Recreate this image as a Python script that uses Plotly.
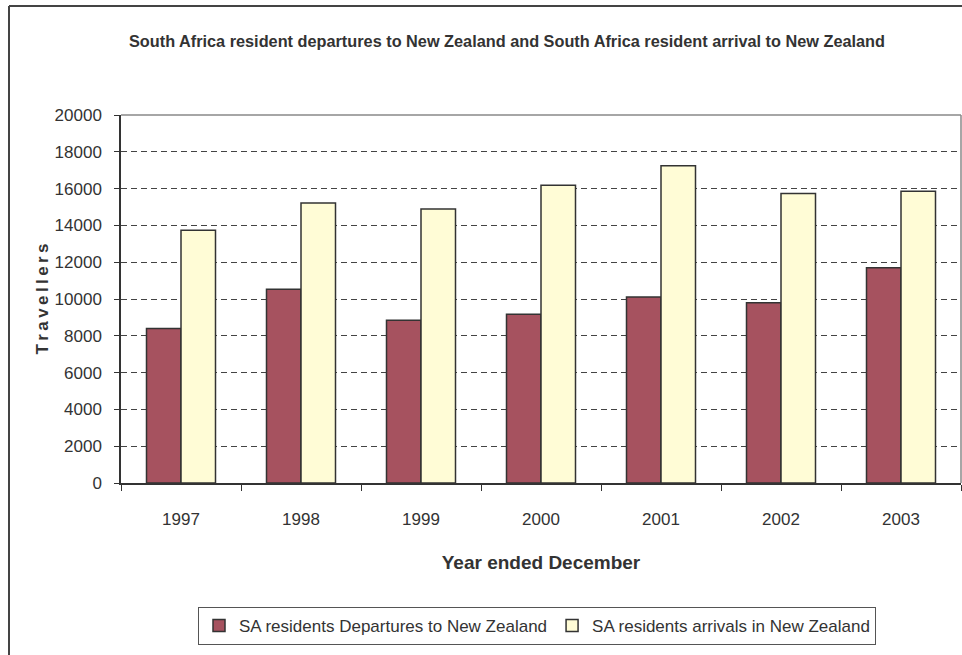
import plotly.graph_objects as go

years = ["1997", "1998", "1999", "2000", "2001", "2002", "2003"]
departures = [8400, 10530, 8840, 9170, 10110, 9800, 11700]
arrivals = [13730, 15220, 14890, 16180, 17240, 15740, 15850]
series_names = ["SA residents Departures to New Zealand", "SA residents arrivals in New Zealand"]
y_ticks = list(range(0, 20001, 2000))

FONT = "Liberation Sans, Arial, sans-serif"
TXT = "#333333"

fig = go.Figure()
fig.add_trace(go.Bar(x=years, y=departures, name=series_names[0],
                     marker=dict(color="#A6525F", line=dict(color="#333333", width=1.5))))
fig.add_trace(go.Bar(x=years, y=arrivals, name=series_names[1],
                     marker=dict(color="#FFFCD6", line=dict(color="#333333", width=1.5))))

W, H = 962, 655
L, R, T, B = 121, 1, 115, 172
pw = W - L - R
ph = H - T - B

def px_x(x):
    return (x - L) / pw

def px_y(y):
    return (H - B - y) / ph

fig.update_layout(
    width=W, height=H,
    margin=dict(l=L, r=R, t=T, b=B, autoexpand=False),
    paper_bgcolor="white", plot_bgcolor="white",
    font=dict(family=FONT, color=TXT, size=17),
    barmode="group", bargap=0.425, bargroupgap=0,
    title=dict(text="<b>South Africa resident departures to New Zealand and South Africa resident arrival to New Zealand</b>",
               x=507 / W, xanchor="center", xref="container",
               y=1 - 41 / H, yanchor="middle", yref="container",
               font=dict(family=FONT, size=16.3, color=TXT)),
    showlegend=True,
    legend=dict(orientation="h", x=px_x(537), xanchor="center", y=px_y(607), yanchor="top",
                bordercolor="#555555", borderwidth=1, font=dict(size=17, family=FONT, color=TXT),
                itemwidth=30, tracegroupgap=0, traceorder="normal"),
)

fig.update_xaxes(
    type="category", showline=True, linecolor="#333333", linewidth=1.5,
    ticks="outside", tickson="boundaries", ticklen=6, tickcolor="#333333",
    ticklabelstandoff=20, tickfont=dict(size=17, family=FONT, color=TXT),
    showgrid=False, automargin=False,
    title=dict(text="<b>Year ended December</b>", font=dict(size=19, family=FONT, color=TXT), standoff=28),
)
fig.update_yaxes(
    range=[0, 20000], tickvals=y_ticks, ticktext=[str(v) for v in y_ticks],
    showline=True, linecolor="#333333", linewidth=1.5,
    ticks="outside", ticklen=5, tickcolor="#333333",
    ticklabelstandoff=9, tickfont=dict(size=17, family=FONT, color=TXT),
    showgrid=True, gridcolor="#444444", gridwidth=1, griddash="6px,4px",
    zeroline=False, automargin=False,
    title=dict(text="<b>T\u2009r\u2009a\u2009v\u2009e\u2009l\u2009l\u2009e\u2009r\u2009s</b>",
               font=dict(size=17, family=FONT, color=TXT), standoff=2),
)

# plot-area top/right border and outer chart frame
fig.add_shape(type="line", xref="paper", yref="paper", x0=0, x1=1, y0=1, y1=1,
              line=dict(color="#888888", width=1.5), layer="above")
fig.add_shape(type="line", xref="paper", yref="paper", x0=1, x1=1, y0=0, y1=1,
              line=dict(color="#888888", width=1.5), layer="above")
fig.add_shape(type="line", xref="paper", yref="paper", x0=px_x(9), x1=px_x(9), y0=px_y(6), y1=px_y(700),
              line=dict(color="#444444", width=2), layer="above")
fig.add_shape(type="line", xref="paper", yref="paper", x0=px_x(9), x1=px_x(1000), y0=px_y(6), y1=px_y(6),
              line=dict(color="#444444", width=2), layer="above")

fig.write_html("out.html", config={"displayModeBar": False},
               post_script="document.body.style.margin='0';document.body.style.overflow='hidden';")
